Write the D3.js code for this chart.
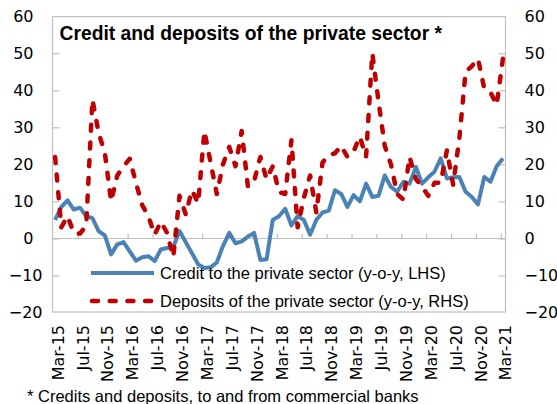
<!DOCTYPE html>
<html>
<head>
<meta charset="utf-8">
<script src="https://cdn.jsdelivr.net/npm/d3@7"></script>
<style>
  html, body { margin: 0; padding: 0; background: #ffffff; }
  svg { display: block; }
</style>
</head>
<body>
<svg id="chart" width="557" height="404"></svg>
<script>
const months = ["Mar-15","Apr-15","May-15","Jun-15","Jul-15","Aug-15","Sep-15","Oct-15","Nov-15","Dec-15",
  "Jan-16","Feb-16","Mar-16","Apr-16","May-16","Jun-16","Jul-16","Aug-16","Sep-16","Oct-16","Nov-16","Dec-16",
  "Jan-17","Feb-17","Mar-17","Apr-17","May-17","Jun-17","Jul-17","Aug-17","Sep-17","Oct-17","Nov-17","Dec-17",
  "Jan-18","Feb-18","Mar-18","Apr-18","May-18","Jun-18","Jul-18","Aug-18","Sep-18","Oct-18","Nov-18","Dec-18",
  "Jan-19","Feb-19","Mar-19","Apr-19","May-19","Jun-19","Jul-19","Aug-19","Sep-19","Oct-19","Nov-19","Dec-19",
  "Jan-20","Feb-20","Mar-20","Apr-20","May-20","Jun-20","Jul-20","Aug-20","Sep-20","Oct-20","Nov-20","Dec-20",
  "Jan-21","Feb-21","Mar-21"];

const credit = [5,8.5,10.3,7.8,8.3,6,5.5,2,0.8,-4.3,
  -1.6,-1,-3.5,-6,-5.1,-4.8,-6.1,-3,-2.6,-2.3,2,-1,
  -4,-7,-8,-7.8,-6.5,-2,1.5,-1.3,-0.8,0.5,1.5,-5.8,
  -5.6,5,6,8,3.5,6,5,1,5,7,7.5,13,
  12,8.5,11.7,10,14.8,11.2,11.5,17,13.9,12.6,15.3,14.8,
  19.3,14.8,16.5,18,21.6,16.2,16.5,16.6,12.6,11.2,9.2,16.6,
  15.3,19.5,21.6];

const deposits = [22,3,6,1.5,1.3,3.5,37.5,28.5,23,10,
  17,19.5,21.5,15,9,6,1,4.5,1.5,-5,11.5,6.5,
  13,9.5,29,20.5,12,20,24.7,19.5,29,14,15.5,22,
  16,19.5,12.5,12,26.5,3,11,17,7,20.5,22.5,23,
  25,22,23.5,27.5,22,50,37,25,20,12,10.5,22,
  16,14,11.5,15,15,23.8,14.5,27,45,46.5,48.5,40.5,
  39.5,36,48.5];

const yTicks = [-20,-10,0,10,20,30,40,50,60];
const xLabelEvery = 4;

const title = "Credit and deposits of the private sector *";
const legendLabels = ["Credit to the private sector (y-o-y, LHS)", "Deposits of the private sector (y-o-y, RHS)"];
const footnote = "* Credits and deposits, to and from commercial banks";

// ---- layout ----
const svg = d3.select("#chart");
const L = 52, R = 506, T = 16.2, B = 312.5;
const blue = "#4a82b6", red = "#c00000", gridCol = "#bfbfbf";
const tickFont = "'DejaVu Sans', sans-serif";
const textFont = "'Liberation Sans', Arial, sans-serif";

svg.append("rect").attr("width", 557).attr("height", 404).attr("fill", "#fff");

const x = d3.scaleBand().domain(months).range([L, R]).paddingInner(0).paddingOuter(0);
const bw = x.bandwidth();
const yL = d3.scaleLinear().domain([-20, 60]).range([B, T]);
const yR = d3.scaleLinear().domain([-20, 60]).range([B, T]);

// frame
svg.append("rect").attr("x", L + 0.5).attr("y", T + 0.5)
  .attr("width", R - L - 1).attr("height", B - T - 1)
  .attr("fill", "none").attr("stroke", gridCol).attr("stroke-width", 1.2);

// zero line
svg.append("line").attr("x1", L).attr("x2", R)
  .attr("y1", Math.round(yL(0)) + 0.5).attr("y2", Math.round(yL(0)) + 0.5)
  .attr("stroke", gridCol).attr("stroke-width", 1.2);

// left axis
const gl = svg.append("g").attr("transform", `translate(${L + 0.5},0)`)
  .call(d3.axisLeft(yL).tickValues(yTicks).tickSize(-7).tickPadding(19).tickFormat(d3.format("d")));
// right axis
const gr = svg.append("g").attr("transform", `translate(${R - 0.5},0)`)
  .call(d3.axisRight(yR).tickValues(yTicks).tickSize(-7).tickPadding(19).tickFormat(d3.format("d")));
[gl, gr].forEach(g => {
  g.select(".domain").remove();
  g.selectAll(".tick line").attr("stroke", gridCol).attr("stroke-width", 1.2);
  g.selectAll(".tick text").attr("font-family", tickFont).attr("font-size", 16).attr("fill", "#000");
});
// negatives on the left sit closer to the axis (no trailing space in the format)
gl.selectAll(".tick text").filter(d => d < 0).attr("x", -10);
// remove tick marks at the very top / bottom edges overlapping frame
gl.selectAll(".tick line").filter(d => d === 60 || d === -20).remove();
gr.selectAll(".tick line").filter(d => d === 60 || d === -20).remove();

// category ticks on the zero line
const tickMonths = months.filter((m, i) => i % xLabelEvery === 0);
svg.append("g").selectAll("line").data(tickMonths.slice(1)).join("line")
  .attr("x1", d => x(d) + 1.5).attr("x2", d => x(d) + 1.5)
  .attr("y1", yL(0)).attr("y2", yL(0) - 5)
  .attr("stroke", gridCol).attr("stroke-width", 1.2);

// category labels
svg.append("g").selectAll("text").data(tickMonths).join("text")
  .attr("transform", d => `translate(${x(d) + bw / 2 + 3},325) rotate(-90)`)
  .attr("text-anchor", "end").attr("dy", "0.35em")
  .attr("font-family", tickFont).attr("font-size", 16).attr("fill", "#000")
  .text(d => d);

// series
const lineL = d3.line().x((d, i) => x(months[i]) + bw / 2).y(d => yL(d));
const lineR = d3.line().x((d, i) => x(months[i]) + bw / 2).y(d => yR(d));

svg.append("path").datum(credit).attr("d", lineL)
  .attr("fill", "none").attr("stroke", blue).attr("stroke-width", 4)
  .attr("stroke-linejoin", "round");

svg.append("path").datum(deposits).attr("d", lineR)
  .attr("fill", "none").attr("stroke", red).attr("stroke-width", 4.5)
  .attr("stroke-dasharray", "6,11.7").attr("stroke-linecap", "round")
  .attr("stroke-linejoin", "round");

// title
svg.append("text").attr("x", 59.5).attr("y", 40)
  .attr("font-family", textFont).attr("font-weight", "bold").attr("font-size", 19.3)
  .attr("fill", "#000").text(title);

// legend
const legY = [273, 301];
const leg = svg.append("g");
leg.append("line").attr("x1", 91).attr("x2", 154).attr("y1", legY[0]).attr("y2", legY[0])
  .attr("stroke", blue).attr("stroke-width", 4);
leg.append("line").attr("x1", 92).attr("x2", 154).attr("y1", legY[1]).attr("y2", legY[1])
  .attr("stroke", red).attr("stroke-width", 4.5)
  .attr("stroke-dasharray", "6,11.7").attr("stroke-linecap", "round");
leg.selectAll("text").data(legendLabels).join("text")
  .attr("x", 160).attr("y", (d, i) => legY[i] + 6)
  .attr("font-family", textFont).attr("font-size", 16.5).attr("fill", "#000")
  .text(d => d);

// footnote
svg.append("text").attr("x", 27).attr("y", 401.5)
  .attr("font-family", textFont).attr("font-size", 16.5).attr("fill", "#000")
  .text(footnote);
</script>
</body>
</html>
